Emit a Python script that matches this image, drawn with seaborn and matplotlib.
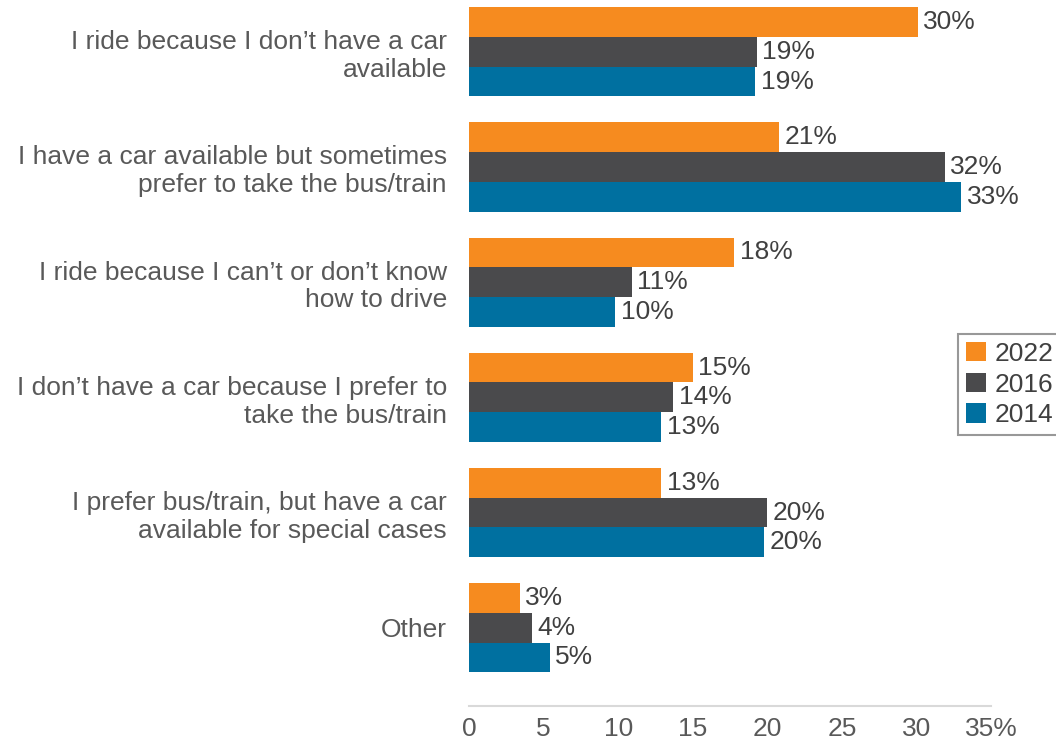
"""
Reasons for riding transit, survey years 2014 / 2016 / 2022.
Horizontal grouped bar chart.
"""

import matplotlib.pyplot as plt
import matplotlib.ticker as mticker
import pandas as pd
import seaborn as sns

# ---- data ----
categories = [
    "I ride because I don\u2019t have a car\navailable",
    "I have a car available but sometimes\nprefer to take the bus/train",
    "I ride because I can\u2019t or don\u2019t know\nhow to drive",
    "I don\u2019t have a car because I prefer to\ntake the bus/train",
    "I prefer bus/train, but have a car\navailable for special cases",
    "Other",
]
years = ["2022", "2016", "2014"]
share_2022 = [30.1, 20.8, 17.8, 15.0, 12.9, 3.4]
share_2016 = [19.3, 31.9, 10.9, 13.7, 20.0, 4.2]
share_2014 = [19.2, 33.0, 9.8, 12.9, 19.8, 5.4]
x_ticks = [0, 5, 10, 15, 20, 25, 30, 35]

colors = ["#F68B1F", "#4A4A4C", "#0070A0"]
text_color = "#595959"
font_size = 19

rows = []
for year, values in zip(years, [share_2022, share_2016, share_2014]):
    for cat, val in zip(categories, values):
        rows.append({"category": cat, "year": year, "share": val})
df = pd.DataFrame(rows)

sns.set_style("white")
plt.rcParams["font.family"] = ["Liberation Sans", "DejaVu Sans"]

fig = plt.figure(figsize=(10.56, 7.4), dpi=100)
ax = fig.add_axes([469 / 1056, 1 - 706 / 740, (991 - 469) / 1056, 706 / 740])

sns.barplot(
    data=df,
    x="share",
    y="category",
    hue="year",
    hue_order=years,
    order=categories,
    palette=colors,
    orient="h",
    width=0.775,
    saturation=1,
    linewidth=0,
    ax=ax,
)

for container in ax.containers:
    ax.bar_label(
        container,
        labels=[f"{v:.0f}%" for v in container.datavalues],
        padding=4,
        fontsize=font_size,
        color="#404040",
    )

ax.set_xlim(0, 35)
ax.set_ylim(5.68, -0.45)
ax.set_xticks(x_ticks)
ax.xaxis.set_major_formatter(
    mticker.FuncFormatter(lambda v, pos: f"{v:.0f}%" if v == 35 else f"{v:.0f}")
)
ax.set_xlabel("")
ax.set_ylabel("")

for side in ["top", "right", "left"]:
    ax.spines[side].set_visible(False)
ax.spines["bottom"].set_color("#d9d9d9")
ax.spines["bottom"].set_linewidth(1.5)

ax.tick_params(axis="x", length=5, width=1, color="#d9d9d9",
               labelsize=font_size, labelcolor=text_color, pad=3)
ax.tick_params(axis="y", length=0, labelsize=font_size, labelcolor=text_color, pad=16)

leg = ax.legend(
    loc="upper left",
    bbox_to_anchor=(958 / 1056, 1 - 334 / 740),
    bbox_transform=fig.transFigure,
    frameon=True,
    fancybox=False,
    fontsize=font_size,
    handlelength=0.75,
    handleheight=0.75,
    handletextpad=0.35,
    labelspacing=0.25,
    borderpad=0.3,
    borderaxespad=0,
)
leg.get_frame().set_edgecolor("#7f7f7f")
leg.get_frame().set_linewidth(1.5)
for t in leg.get_texts():
    t.set_color("#404040")

fig.savefig("out.png", dpi=100)
